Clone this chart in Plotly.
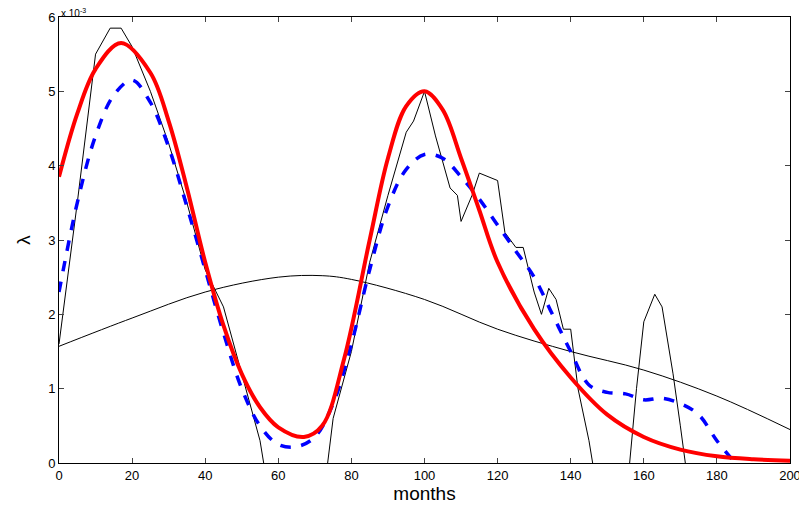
import plotly.graph_objs as go

# values in units of 1e-3
red_x = [0, 5, 10, 17, 25, 30, 35, 40, 45, 50, 55, 60, 67, 72, 78, 85, 90, 95, 100, 105, 110, 115, 120, 130, 140, 150, 160, 170, 180, 190, 200]
red_y = [3.85, 4.7, 5.3, 5.65, 5.25, 4.6, 3.7, 2.7, 1.85, 1.2, 0.75, 0.48, 0.35, 0.5, 1.4, 3.0, 4.1, 4.8, 5.0, 4.75, 4.1, 3.4, 2.7, 1.8, 1.15, 0.65, 0.35, 0.18, 0.09, 0.05, 0.03]

blue_x = [0, 5, 10, 15, 20, 25, 30, 35, 40, 45, 50, 55, 60, 65, 70, 75, 80, 85, 90, 95, 100, 105, 110, 115, 120, 125, 130, 135, 140, 145, 150, 155, 160, 165, 170, 175, 180, 185]
blue_y = [2.3, 3.5, 4.4, 4.95, 5.15, 4.85, 4.25, 3.45, 2.6, 1.75, 1.0, 0.5, 0.25, 0.22, 0.35, 0.8, 1.6, 2.6, 3.45, 3.95, 4.15, 4.1, 3.85, 3.55, 3.2, 2.85, 2.5, 2.0, 1.5, 1.05, 0.95, 0.93, 0.85, 0.87, 0.8, 0.65, 0.3, 0.0]

noisy_x = [0, 5, 10, 14, 17, 20, 25, 30, 35, 40, 45, 50, 55, 58, 72, 75, 80, 85, 90, 95, 97, 100, 103, 107, 109, 110, 113, 115, 120, 122, 125, 127, 130, 132, 134, 136, 138, 140, 142, 145, 148, 155, 158, 160, 163, 165, 168, 170, 173]
noisy_y = [1.6, 3.5, 5.5, 5.85, 5.85, 5.6, 5.0, 4.3, 3.5, 2.6, 2.1, 1.2, 0.3, -0.6, -0.6, 0.6, 1.5, 2.7, 3.6, 4.45, 4.6, 5.0, 4.4, 3.7, 3.6, 3.25, 3.6, 3.9, 3.8, 3.1, 2.9, 2.9, 2.3, 2.0, 2.35, 2.2, 1.8, 1.8, 1.0, 0.3, -0.6, -0.6, 1.0, 1.9, 2.27, 2.1, 1.2, 0.5, -0.6]

smooth_x = [0, 20, 40, 60, 72, 80, 100, 120, 140, 160, 180, 200]
smooth_y = [1.57, 1.95, 2.3, 2.5, 2.52, 2.47, 2.2, 1.8, 1.5, 1.25, 0.9, 0.45]

fig = go.Figure()
fig.add_trace(go.Scatter(x=smooth_x, y=smooth_y, mode="lines", line=dict(color="black", width=1, shape="spline")))
fig.add_trace(go.Scatter(x=noisy_x, y=noisy_y, mode="lines", line=dict(color="black", width=1)))
fig.add_trace(go.Scatter(x=blue_x, y=blue_y, mode="lines", line=dict(color="blue", width=3.5, dash="dash", shape="spline")))
fig.add_trace(go.Scatter(x=red_x, y=red_y, mode="lines", line=dict(color="red", width=4, shape="spline")))

ax = dict(showgrid=False, zeroline=False, showline=True, linecolor="black", mirror="ticks",
          ticks="inside", ticklen=5, tickfont=dict(size=13, color="black"), automargin=False)
fig.update_layout(
    width=807, height=508, showlegend=False,
    plot_bgcolor="white", paper_bgcolor="white",
    margin=dict(l=51, r=25, t=9, b=53),
    font=dict(family="Liberation Sans", color="black"),
    xaxis=dict(ax, range=[0, 200], dtick=20, title=dict(text="months", font=dict(size=19), standoff=3)),
    yaxis=dict(ax, range=[0, 6], dtick=1, title=dict(text="λ", font=dict(size=19), standoff=12)),
    annotations=[dict(text="x 10<sup>-3</sup>", x=0, y=1, xref="paper", yref="paper",
                      xanchor="left", yanchor="bottom", yshift=-4, showarrow=False, font=dict(size=10))],
)
fig.write_html("out.html")
